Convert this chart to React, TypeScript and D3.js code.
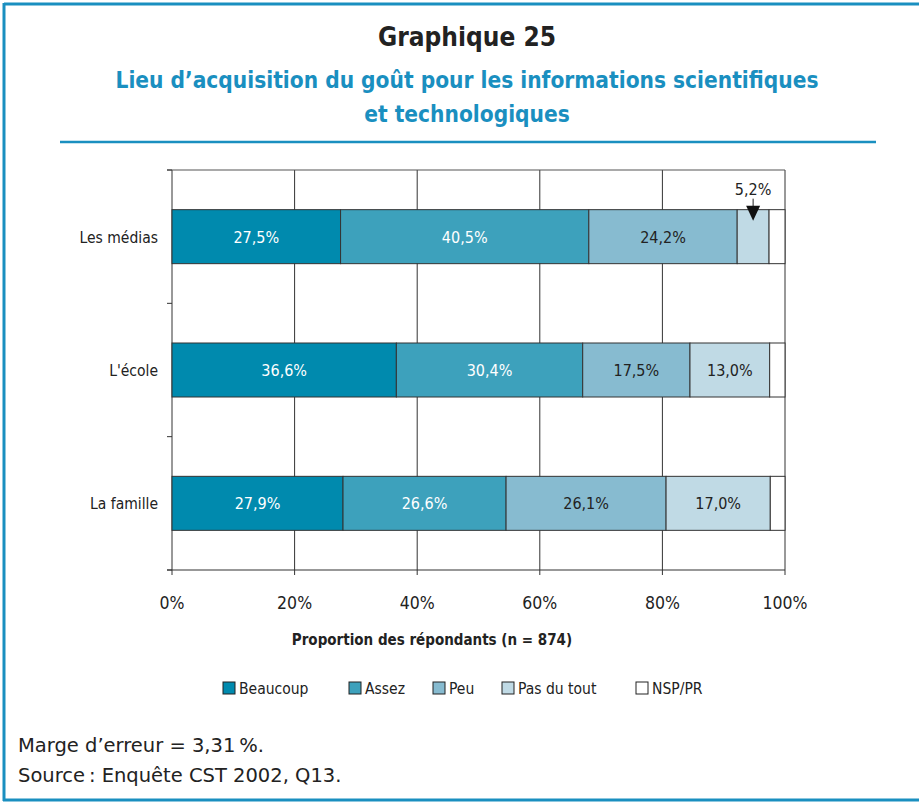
import React from "react";
import * as d3 from "d3";

const categories = ["Les médias", "L'école", "La famille"];
const seriesNames = ["Beaucoup", "Assez", "Peu", "Pas du tout", "NSP/PR"];
const beaucoup = [27.5, 36.6, 27.9];
const assez = [40.5, 30.4, 26.6];
const peu = [24.2, 17.5, 26.1];
const pasDuTout = [5.2, 13.0, 17.0];
const nspPr = [2.6, 2.5, 2.4];
const xTicks = [0, 20, 40, 60, 80, 100];
const colors = ["#008aae", "#3da1bc", "#87bbd0", "#c0dae5", "#ffffff"];
const labelColors = ["#ffffff", "#ffffff", "#222222", "#222222", "#222222"];

const FONT = "'DejaVu Sans', sans-serif";
const BLUE = "#1a8fc0";

export default function App() {
  const W = 919, H = 803;
  const left = 172, right = 785, top = 170, bottom = 570;
  const x = d3.scaleLinear().domain([0, 100]).range([left, right]);
  const y = d3.scaleBand<string>().domain(categories).range([top, bottom]).paddingInner(0.595).paddingOuter(0.2975);
  const series = [beaucoup, assez, peu, pasDuTout, nspPr];
  const rows = categories.map((c, i) => {
    const o: any = { cat: c };
    seriesNames.forEach((s, j) => (o[s] = series[j][i]));
    return o;
  });
  const stacked = d3.stack<any>().keys(seriesNames)(rows);
  const fmt = (v: number) => v.toFixed(1).replace(".", ",") + "%";
  const step = (bottom - top) / categories.length;
  const legendX = [223, 349, 433, 502, 636];

  return (
    <svg width={W} height={H} style={{ position: "absolute", left: 0, top: 0, background: "#fff", fontStretch: "condensed" }} fontFamily={FONT}>
      <rect x={0} y={0} width={W} height={H} fill="#fff" />
      {/* frame */}
      <line x1={4} y1={4} x2={W} y2={4} stroke={BLUE} strokeWidth={3} />
      <line x1={4} y1={3} x2={4} y2={801} stroke={BLUE} strokeWidth={3} />
      <line x1={3} y1={800} x2={W} y2={800} stroke={BLUE} strokeWidth={3} />

      <text x={467} y={46} textAnchor="middle" fontSize={26} fontWeight="bold" fill="#222">Graphique 25</text>
      <text x={467} y={88} textAnchor="middle" fontSize={22.5} fontWeight="bold" fill={BLUE}>Lieu d’acquisition du goût pour les informations scientifiques</text>
      <text x={467} y={122} textAnchor="middle" fontSize={22.5} fontWeight="bold" fill={BLUE}>et technologiques</text>
      <line x1={60} y1={142} x2={876} y2={142} stroke={BLUE} strokeWidth={2.5} />

      {/* grid */}
      {xTicks.map((t) => (
        <line key={"g" + t} x1={x(t)} x2={x(t)} y1={top} y2={bottom + 5} stroke="#333" strokeWidth={1} />
      ))}
      <line x1={left - 5} x2={right} y1={top} y2={top} stroke="#555" strokeWidth={1.2} />
      <line x1={left - 5} x2={right} y1={bottom} y2={bottom} stroke="#333" strokeWidth={1.2} />
      {d3.range(categories.length + 1).map((i) => (
        <line key={"yt" + i} x1={left - 5} x2={left} y1={top + i * step} y2={top + i * step} stroke="#333" strokeWidth={1} />
      ))}

      {/* bars */}
      {stacked.map((s, j) =>
        s.map((d, i) => (
          <rect key={j + "-" + i} x={x(d[0])} y={y(categories[i])!} width={x(d[1]) - x(d[0])} height={y.bandwidth()} fill={colors[j]} stroke="#333" strokeWidth={1} />
        ))
      )}
      {stacked.map((s, j) =>
        j < 4
          ? s.map((d, i) => {
              if (d[1] - d[0] < 8) return null;
              return (
                <text key={"l" + j + "-" + i} x={(x(d[0]) + x(d[1])) / 2} y={y(categories[i])! + y.bandwidth() / 2 + 6} textAnchor="middle" fontSize={16} fill={labelColors[j]}>
                  {fmt(d[1] - d[0])}
                </text>
              );
            })
          : null
      )}
      {/* annotation for small segment */}
      {(() => {
        const d = stacked[3][0];
        const cx = (x(d[0]) + x(d[1])) / 2;
        const by = y(categories[0])!;
        return (
          <g>
            <text x={cx} y={by - 15} textAnchor="middle" fontSize={16} fill="#222">{fmt(d[1] - d[0])}</text>
            <line x1={cx} x2={cx} y1={by - 11} y2={by + 2} stroke="#222" strokeWidth={1} />
            <path d={`M${cx - 7},${by - 4} L${cx + 7},${by - 4} L${cx},${by + 11} Z`} fill="#111" />
          </g>
        );
      })()}

      {/* axis labels */}
      {categories.map((c) => (
        <text key={c} x={left - 14} y={y(c)! + y.bandwidth() / 2 + 6} textAnchor="end" fontSize={15.5} fill="#222">{c}</text>
      ))}
      {xTicks.map((t) => (
        <text key={"xt" + t} x={x(t)} y={609} textAnchor="middle" fontSize={17.5} fill="#222">{t}%</text>
      ))}
      <text x={432} y={645} textAnchor="middle" fontSize={15} fontWeight="bold" fill="#222">Proportion des répondants (n = 874)</text>

      {/* legend */}
      {seriesNames.map((s, j) => (
        <g key={"lg" + s}>
          <rect x={legendX[j]} y={682} width={12} height={12} fill={colors[j]} stroke="#222" strokeWidth={1} />
          <text x={legendX[j] + 16} y={694} fontSize={15.5} fill="#222">{s}</text>
        </g>
      ))}

      <text x={18} y={752} fontSize={19.5} fill="#222" style={{ fontStretch: "normal" }}>Marge d’erreur = 3,31{"\u2009"}%.</text>
      <text x={18} y={782} fontSize={19.5} fill="#222" style={{ fontStretch: "normal" }}>Source{"\u2009"}: Enquête CST 2002, Q13.</text>
    </svg>
  );
}
